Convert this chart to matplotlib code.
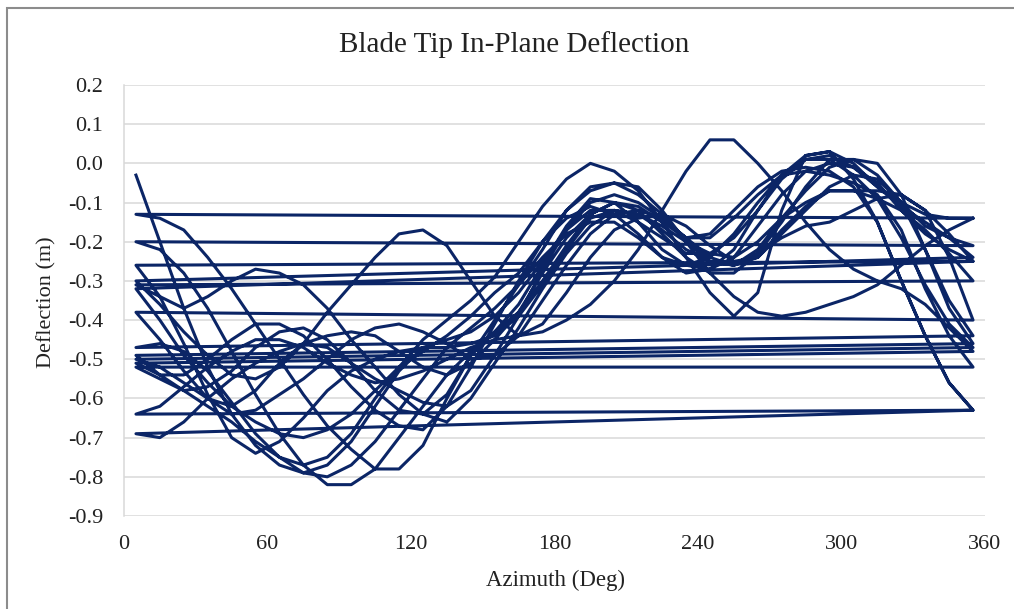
import numpy as np
import matplotlib
matplotlib.use("Agg")
import matplotlib.pyplot as plt
from matplotlib.patches import Rectangle
from matplotlib.ticker import FuncFormatter

# azimuth samples used for every revolution (deg)
azimuth = list(range(5, 356, 10))

# tip in-plane deflection per revolution (m)
rev01 = [-0.03, -0.20, -0.37, -0.52, -0.64, -0.72, -0.77, -0.79, -0.77, -0.71, -0.62, -0.53,
         -0.47, -0.45, -0.43, -0.39, -0.33, -0.25, -0.17, -0.12, -0.12, -0.15, -0.19, -0.23,
         -0.23, -0.19, -0.12, -0.04, 0.01, 0.02, -0.01, -0.06, -0.10, -0.13, -0.14, -0.14]
rev02 = [-0.13, -0.14, -0.17, -0.24, -0.32, -0.41, -0.50, -0.59, -0.67, -0.73, -0.78, -0.78,
         -0.72, -0.60, -0.49, -0.43, -0.38, -0.30, -0.21, -0.13, -0.10, -0.12, -0.18, -0.24,
         -0.28, -0.28, -0.23, -0.15, -0.06, 0.01, 0.01, -0.03, -0.10, -0.16, -0.19, -0.21]
rev03 = [-0.20, -0.22, -0.28, -0.37, -0.48, -0.59, -0.69, -0.77, -0.82, -0.82, -0.78, -0.70,
         -0.62, -0.54, -0.48, -0.43, -0.36, -0.26, -0.16, -0.09, -0.10, -0.15, -0.22, -0.26,
         -0.27, -0.24, -0.16, -0.08, -0.02, 0.00, -0.01, -0.05, -0.12, -0.18, -0.22, -0.25]
rev04 = [-0.26, -0.34, -0.46, -0.59, -0.70, -0.74, -0.71, -0.65, -0.58, -0.53, -0.50, -0.48,
         -0.47, -0.47, -0.46, -0.44, -0.39, -0.31, -0.22, -0.14, -0.12, -0.13, -0.16, -0.20,
         -0.23, -0.24, -0.20, -0.14, -0.10, -0.07, -0.07, -0.07, -0.08, -0.12, -0.18, -0.25]
rev05 = [-0.32, -0.40, -0.49, -0.56, -0.62, -0.66, -0.69, -0.70, -0.68, -0.64, -0.58, -0.52,
         -0.48, -0.44, -0.39, -0.33, -0.28, -0.20, -0.14, -0.11, -0.13, -0.18, -0.24, -0.28,
         -0.27, -0.22, -0.12, -0.03, 0.02, 0.03, 0.00, -0.06, -0.11, -0.15, -0.19, -0.24]
rev06 = [-0.30, -0.36, -0.43, -0.49, -0.54, -0.55, -0.52, -0.46, -0.38, -0.31, -0.24, -0.18,
         -0.17, -0.21, -0.30, -0.39, -0.44, -0.41, -0.33, -0.24, -0.17, -0.14, -0.13, -0.16,
         -0.21, -0.25, -0.24, -0.17, -0.11, -0.07, -0.07, -0.09, -0.12, -0.17, -0.23, -0.30]
rev07 = [-0.31, -0.34, -0.37, -0.34, -0.30, -0.27, -0.28, -0.31, -0.37, -0.45, -0.52, -0.59,
         -0.64, -0.66, -0.60, -0.51, -0.42, -0.32, -0.23, -0.16, -0.12, -0.13, -0.17, -0.22,
         -0.25, -0.26, -0.23, -0.19, -0.16, -0.15, -0.12, -0.09, -0.08, -0.12, -0.24, -0.40]
rev08 = [-0.38, -0.45, -0.53, -0.60, -0.64, -0.63, -0.59, -0.55, -0.50, -0.45, -0.42, -0.41,
         -0.43, -0.46, -0.50, -0.49, -0.44, -0.35, -0.26, -0.18, -0.13, -0.12, -0.14, -0.19,
         -0.24, -0.26, -0.24, -0.18, -0.12, -0.06, -0.03, -0.04, -0.10, -0.22, -0.35, -0.44]
rev09 = [-0.47, -0.46, -0.48, -0.53, -0.61, -0.69, -0.75, -0.79, -0.80, -0.77, -0.71, -0.63,
         -0.55, -0.47, -0.42, -0.37, -0.31, -0.22, -0.12, -0.06, -0.05, -0.08, -0.13, -0.20,
         -0.25, -0.26, -0.22, -0.14, -0.07, -0.01, 0.01, 0.00, -0.08, -0.22, -0.37, -0.46]
rev10 = [-0.49, -0.54, -0.58, -0.57, -0.53, -0.47, -0.43, -0.42, -0.45, -0.51, -0.58, -0.63,
         -0.64, -0.59, -0.49, -0.40, -0.31, -0.24, -0.18, -0.15, -0.15, -0.19, -0.24, -0.26,
         -0.24, -0.18, -0.10, -0.03, 0.01, 0.01, -0.03, -0.09, -0.19, -0.31, -0.41, -0.47]
rev11 = [-0.50, -0.52, -0.56, -0.60, -0.62, -0.58, -0.51, -0.46, -0.47, -0.51, -0.55, -0.58,
         -0.61, -0.62, -0.58, -0.49, -0.39, -0.27, -0.17, -0.10, -0.08, -0.10, -0.14, -0.19,
         -0.19, -0.14, -0.08, -0.03, -0.02, -0.03, -0.05, -0.08, -0.17, -0.32, -0.44, -0.52]
rev12 = [-0.52, -0.55, -0.58, -0.62, -0.66, -0.71, -0.75, -0.77, -0.75, -0.69, -0.60, -0.52,
         -0.45, -0.40, -0.35, -0.29, -0.20, -0.11, -0.04, 0.00, -0.02, -0.07, -0.15, -0.24,
         -0.33, -0.39, -0.33, -0.12, 0.02, 0.03, -0.04, -0.15, -0.30, -0.44, -0.56, -0.63]
rev13 = [-0.69, -0.70, -0.66, -0.60, -0.55, -0.51, -0.48, -0.46, -0.44, -0.43, -0.44, -0.48,
         -0.52, -0.54, -0.51, -0.45, -0.38, -0.28, -0.19, -0.13, -0.10, -0.11, -0.15, -0.19,
         -0.18, -0.12, -0.06, -0.02, -0.01, -0.02, -0.06, -0.15, -0.30, -0.44, -0.56, -0.63]
rev14 = [-0.64, -0.62, -0.57, -0.52, -0.48, -0.45, -0.45, -0.47, -0.51, -0.54, -0.56, -0.55,
         -0.53, -0.50, -0.47, -0.45, -0.44, -0.43, -0.40, -0.36, -0.30, -0.22, -0.12, -0.02,
         0.06, 0.06, 0.00, -0.07, -0.15, -0.22, -0.27, -0.30, -0.32, -0.36, -0.42, -0.48]
rev15 = [-0.51, -0.54, -0.54, -0.50, -0.45, -0.41, -0.41, -0.44, -0.50, -0.57, -0.63, -0.67,
         -0.68, -0.62, -0.52, -0.41, -0.30, -0.20, -0.12, -0.07, -0.05, -0.06, -0.12, -0.20,
         -0.28, -0.34, -0.38, -0.39, -0.38, -0.36, -0.34, -0.31, -0.26, -0.21, -0.17, -0.14]

revolutions = [rev01, rev02, rev03, rev04, rev05, rev06, rev07, rev08,
               rev09, rev10, rev11, rev12, rev13, rev14, rev15]

# one continuous series, so each revolution wraps back to the left edge
x = np.concatenate([azimuth for _ in revolutions])
y = np.concatenate(revolutions)

serif = "Liberation Serif"
navy = "#0b2566"

fig = plt.figure(figsize=(10.14, 6.09), dpi=100)
ax = fig.add_axes([124 / 1014, 1 - 516 / 609, 861 / 1014, 431 / 609])

ax.plot(x, y, color=navy, linewidth=2.2, solid_joinstyle="round")

ax.set_xlim(0, 360)
ax.set_ylim(-0.9, 0.2)
ax.set_xticks(np.arange(0, 361, 60))
ax.set_yticks(np.round(np.arange(-0.9, 0.21, 0.1), 1))
ax.yaxis.set_major_formatter(FuncFormatter(lambda v, _: f"{v:.1f}" if abs(v) > 1e-9 else "0.0"))
ax.grid(axis="y", color="#d9d9d9", linewidth=1.1)
ax.set_axisbelow(True)
for side in ["top", "right", "bottom"]:
    ax.spines[side].set_visible(False)
ax.spines["left"].set_color("#d9d9d9")
ax.spines["left"].set_linewidth(1.1)
ax.tick_params(length=0, labelsize=16, labelcolor="#222222")
ax.tick_params(axis="x", pad=14)
ax.tick_params(axis="y", pad=15)
for lab in ax.get_xticklabels() + ax.get_yticklabels():
    lab.set_fontfamily(serif)

fig.text(514 / 1014, 1 - 45 / 609, "Blade Tip In-Plane Deflection", ha="center", va="center",
         fontsize=21, family=serif, color="#222222")
fig.text(555 / 1014, 1 - 580 / 609, "Azimuth (Deg)", ha="center", va="center",
         fontsize=16.5, family=serif, color="#222222")
fig.text(47 / 1014, 1 - 302 / 609, "Deflection (m)", ha="center", va="center", rotation=90,
         fontsize=16, family=serif, color="#222222")

# outer chart-area border (cut off at right and bottom in the original)
fig.patches.append(Rectangle((7 / 1014, -0.1), 1.2, 1.1 - 8 / 609, transform=fig.transFigure,
                             fill=False, edgecolor="#8c8c8c", linewidth=1.5))

fig.savefig("out.png", dpi=100)
